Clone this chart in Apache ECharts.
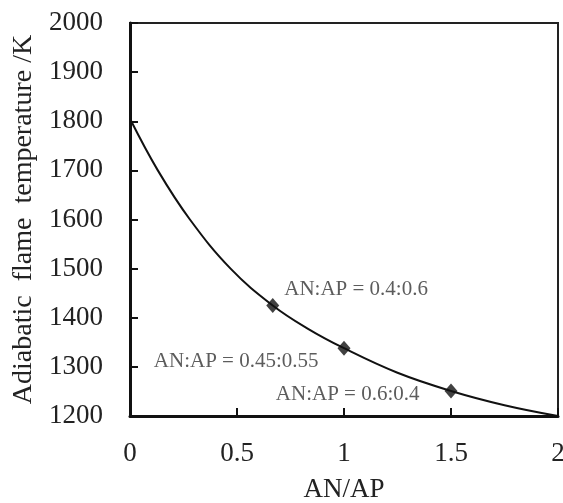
<!DOCTYPE html>
<html>
<head>
<meta charset="utf-8">
<script src="https://cdn.jsdelivr.net/npm/echarts@6/dist/echarts.min.js"></script>
<style>
  html, body { margin: 0; padding: 0; background: #fff; }
  #chart { width: 563px; height: 503px; }
</style>
</head>
<body>
<div id="chart"></div>
<script>
// curve: AN/AP ratio vs adiabatic flame temperature
const curveX = [0, 0.13, 0.28, 0.47, 0.667, 0.83, 1.0, 1.25, 1.5, 1.75, 2.0]
const curveY = [1805, 1700, 1600, 1500, 1425, 1378, 1338, 1288, 1251, 1222, 1200]

// marked compositions
const markX = [0.667, 1.0, 1.5]
const markY = [1425, 1338, 1251]
const markLabels = ['AN:AP = 0.4:0.6', 'AN:AP = 0.45:0.55', 'AN:AP = 0.6:0.4']

const xTicks = [0, 0.5, 1, 1.5, 2]
const yTicks = [1200, 1300, 1400, 1500, 1600, 1700, 1800, 1900, 2000]

const font = 'Liberation Serif'
const labelPlace = [
  { position: 'right', offset: [0, -16] },
  { position: 'left', offset: [-14, 13] },
  { position: 'left', offset: [-20, 4] }
]

const chart = echarts.init(document.getElementById('chart'))

chart.setOption({
  animation: false,
  grid: {
    left: 130,
    right: 5,
    top: 23,
    bottom: 87,
    outerBoundsMode: 'none',
    show: true,
    borderColor: '#222',
    borderWidth: 2
  },
  xAxis: {
    type: 'value',
    min: xTicks[0],
    max: xTicks[xTicks.length - 1],
    interval: 0.5,
    name: 'AN/AP',
    nameLocation: 'middle',
    nameGap: 60,
    nameTextStyle: { fontFamily: font, fontSize: 27, color: '#222' },
    axisLine: { lineStyle: { color: '#111', width: 3 } },
    axisTick: { inside: true, length: 8, lineStyle: { color: '#111', width: 2 } },
    axisLabel: { fontFamily: font, fontSize: 27, color: '#222', margin: 24, formatter: v => String(v) },
    splitLine: { show: false }
  },
  yAxis: {
    type: 'value',
    min: yTicks[0],
    max: yTicks[yTicks.length - 1],
    interval: 100,
    name: 'Adiabatic  flame  temperature /K',
    nameLocation: 'middle',
    nameGap: 86,
    nameTextStyle: { fontFamily: font, fontSize: 28, color: '#222' },
    axisLine: { lineStyle: { color: '#111', width: 3 } },
    axisTick: { inside: true, length: 8, lineStyle: { color: '#111', width: 2 } },
    axisLabel: { fontFamily: font, fontSize: 27, color: '#222', margin: 27, formatter: v => String(v) },
    splitLine: { show: false }
  },
  series: [
    {
      type: 'line',
      data: curveX.map((x, i) => [x, curveY[i]]),
      smooth: 0.4,
      symbol: 'none',
      lineStyle: { color: '#111', width: 2 }
    },
    {
      type: 'scatter',
      data: markX.map((x, i) => ({
        value: [x, markY[i]],
        label: Object.assign({ show: true, formatter: markLabels[i] }, labelPlace[i])
      })),
      symbol: 'diamond',
      symbolSize: [13, 15],
      itemStyle: { color: '#111' },
      label: { fontFamily: font, fontSize: 21, color: '#333' },
      z: 3
    }
  ]
})
</script>
</body>
</html>
